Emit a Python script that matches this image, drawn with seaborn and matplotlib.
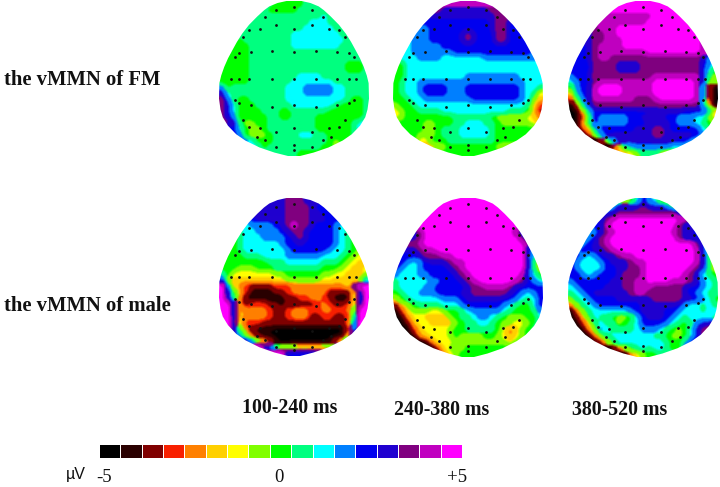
import numpy as np
import seaborn as sns
import matplotlib.pyplot as plt
from matplotlib.colors import ListedColormap, to_rgb
from matplotlib.patches import PathPatch
from matplotlib.path import Path

# colour levels of the scale, -5 uV (black) to +5 uV (magenta)
levels = ['#000000', '#2a0000', '#800000', '#f82000', '#ff8000', '#ffd000', '#ffff00', '#80ff00', '#00ff00',
          '#00ff80', '#00ffff', '#0080ff', '#0000f0', '#2000d0', '#800080', '#c000c0', '#ff00ff']
digits = '0123456789abcdefg'

fm_100 = [
    "9999999998888899999999999", "9999999988888999999999999", "99999999999999999a9999999",
    "999999999999999aaa9999999", "99999999999999aaaaa999999", "999999999999aaaaaaaa99999",
    "999899999999aaaaaaaaa9999", "998889999999aaaaaaaa99999", "9988899999999999999999999",
    "8888899999999999999999999", "8888899999999999999998889", "8888899999999999999998889",
    "8888899999999aaaa99999999", "888889999999aaaaaaa999999", "b8999999999aaabbbbbaa9999",
    "da9999a9999aaabbbbbaa9999", "eb988999999aaaaaaaaaa9889", "eca888999999aaaaaaa988889",
    "eca8888999889999998888889", "ecb8888899889999888888889", "eec97788999999998888889aa",
    "ccca877899999999888888" "9aa", "cccb877789999aaa998888999", "ccccba8889999999998789999",
    "aaaaaaa899999999988777899", "9999999999999888887779999",
]
fm_240 = [
    "fffffffffffffffffffffffff", "eeeeeeeeddddddddeeeeeffff", "dddddddddddddddddeeeeefff",
    "ccccccccccccccccdeecccccc", "bbbbbbccccccccccdeecccccc", "bbbbbbcccccdedccceecccccc",
    "aaabbbcccccdedccceecccccc", "aaabbbbbccccccccccccccccc", "aaabbbbbbbcccccccccccccbb",
    "aaaabbbbaaaaaaabbbbbbbbbb", "88aaaaaaaaaaaaaaaaaaaaaaa", "88aaaaaaaaaaaaaaaaaaaaaaa",
    "88aaaaaaaaaabbbbbbbbbaaaa", "89aabbbbbbbbbbbbbbbbbbaaa", "89aabccccbbbcccccccccbaa9",
    "89aabccccbbbcccccccccba96", "889aabbbbbbbbccccccccba75", "7889aaaaaaaaaaaaaaaaaa963",
    "67889999aaaaaaaaaaa999852", "6788888888999999877777654", "888887788899aaa9987777765",
    "88888778999aaaaa988888888", "88887778999aaaaa988888888", "8888668889999999988888888",
    "5555544578888888876666666", "8888888888888888888888888",
]
fm_380 = [
    "ggggggggggggggggggggggggg", "ggggggggggggggggggggggggg", "ffffffffffffffggggggggggg",
    "fffffffffffffgggggggggggg", "ddddefffgggggggggggggggff", "ddddeeffggggggggggggggfee",
    "ddddeefffgggggggggggggfee", "cccdeffffgggggggggggggfff", "cccdeffffffffgggggggggffe",
    "cccdeffeeeeeeeeeeeeeeedba", "cccceeeeddddeeeeeeeeeecba", "cccceeeeddddeeeeeeeeeeca8",
    "bccdeeeeeeeeeeffffffffc97", "abccefffffffffgggggggfc86", "8bcdfggggfffffgggggggfa30",
    "6acdfggggfffffgggggggfa30", "38bdfffffffeeefggggggfa30", "049ceeeeeeeeeeeeeeeeeea50",
    "016acccccccccccddddcccca62", "0038cbbbbbccddddccbbbaa75", "0159cbbbbbcccddddcbbba987",
    "1136accccccdddeedccccca98", "00037acdddddddeedddddcba9", "0000037acdddddddddccba999",
    "0000000269abbbbbbaaa99999", "4444444445679997666666666",
]
male_100 = [
    "dddddddddddeeeddddddddddd", "dddddddddddeeeedcccccccccc", "dddddddddddeeeeddcccccccc",
    "bbbbbcdddddeeeedddcccbbbb", "aaaaabbbbcdegeedcccba9999", "9999aabbbbcdeedccccba9999",
    "8889aaabbbbcdedccccba9888", "8889aaaaaabccdcccccba9888", "8889aaaaaaabccccccbaa9877",
    "8888999aaaabbbbbbaaa98766", "88888888999aaaaaa99987655", "8887778889999999988876556",
    "a866666667788888877665557", "c75555555667777776655557a", "gb6432222333444444444" "6cgg",
    "gc85311112234444442222" "6cg", "gd9411110012233443" "2101" "6cg", "ggc42333221212223432236cg",
    "ggc5444432234443344334" "8gg", "ggc5444432234442233223" "9gg", "ggd633322222222222222" "4agg",
    "ggc841111000000000000" "3bgg", "ggda7421000000000000" "15cgg", "ggggca75310000000013" "6aggg",
    "gggggggcb977666666" "7acgggg", "ggggggggggg" "ccccccd" "ggggggg",
]
male_240 = [
    "ggggggggggggggggggggggggg", "ggggggggggggggggggggggggg", "ggggggggggggggggggggggggg",
    "ggggggggggggggggggggggggg", "ggggggggggggggggggggggggg", "ddddegggggggggggggggecccc",
    "ddddeggggggggggggggggeccc", "eeeefgggggggggggggggggecc", "ddddeffgggggggggggggggcba",
    "ccccdeeeffggggggggggggda9", "dcbabcdddeffggggggggggd96", "dbaabccccdefggggggggggd96",
    "baaabbccccdefggggggggfca8", "9aaaaabbcccdefggggggfecba", "9aaaabbcccccdeeffffedcccc",
    "89aabbbccccddeeeeeedcbabc", "689aaaaabbbcddddddccba9ac", "25789999aaabccccccba988ac",
    "036777667889abbbbba98889b", "0146655557899abba9877788a", "00256655557899aa98776678a",
    "000356666788999998645789a", "000145666787777887646789a", "0000014666777777777678999",
    "0000000367778888888888888", "0000000046788888888888888",
]
male_380 = [
    "88888888858acba8888888888", "aaaaaaabcccdedccba9999999", "bbbbbbcdeeeeeeeeeedcbbbbb",
    "bbbbbcefgggggggggggfecbbb", "aaabcdfgggggggggggeddcba9", "aaaabcefgggggggggfeddca99",
    "aaabcefgggggggggggeddcba9", "abbcdefggggggggggggggeca9", "bbccddefgggggggggggggfca8",
    "ccbabcddeffggggggggggfd96", "cbaaabcdddeffggggggggfd95", "cbaaaaccddeefgggggggfec96",
    "ccbabcccdeeefggggggfeca98", "bccccccddeeffggggfffedba9", "abccccdddeefffeeeeedccba9",
    "9abcddddddeffeeeeeedcba99", "79abccccddddddeeeeeddcba8", "479abcccccccddddddcbaa9a9",
    "0479aaaaaabcddddccbaaa9aa", "0258a998778acdddcba9aaaa9", "00369a99789accccba989bcde",
    "00147ba9999abbba9878acefe", "0001479aaaaaaa998778acfee", "00001368aaaaaaaa988acdddd",
    "000000024689a9aa988cccccc", "0000000000467889999999999",
]

map_rows = [fm_100, fm_240, fm_380, male_100, male_240, male_380]
# left, top, width, height of each head in image pixels
head_boxes = [(219, 1, 150, 155), (393, 1, 150, 155), (568, 1, 150, 155),
              (219, 198, 150, 158), (393, 198, 150, 159), (568, 198, 150, 159)]

# head outline, v runs down the head, w is half width
head_v = [0, .013, .035, .06, .10, .154, .21, .263, .316, .37, .425, .48, .53, .63, .70, .75, .805, .86, .90, .945, .978, 1]
head_w = [.10, .22, .33, .40, .49, .60, .69, .76, .82, .88, .93, .97, .995, 1, .98, .95, .88, .77, .65, .46, .26, .08]

# electrodes, u across (-1..1), v down (0..1)
dot_u = [-.244, 0, .244, -.382, .387, -.244, .244, -.6, -.458, 0, .467, .6, -.68, .68, -.733, -.569, -.298, 0, .298,
         .573, .733, -.791, .796, -.844, -.733, -.6, -.298, 0, .298, .573, .733, .831, -.791, -.733, -.569, -.298, 0,
         .298, .573, .733, .796, -.68, .684, -.6, -.458, -.244, 0, .244, .467, .6, -.489, -.382, .387, .493, -.244, 0,
         .244, 0]
dot_v = [.06, .039, .06, .104, .104, .154, .154, .187, .178, .178, .178, .187, .23, .23, .338, .328, .321, .328, .321,
         .328, .338, .36, .36, .501, .501, .501, .501, .501, .501, .501, .501, .501, .638, .66, .672, .681, .672, .681,
         .672, .66, .638, .768, .768, .812, .822, .844, .82, .844, .82, .812, .876, .898, .898, .876, .94, .928, .94,
         .961]

row_labels = ['the vMMN of FM', 'the vMMN of male']
row_label_y = [80, 306]
time_labels = ['100-240 ms', '240-380 ms', '380-520 ms']
time_label_x = [290, 442, 620]
time_label_y = [408, 410, 410]
scale_labels = ['-5', '0', '+5']
scale_label_x = [104, 279, 457]

W, H = 720, 487
palette = np.array([to_rgb(c) for c in levels])


def axes_at(fig, left, top, width, height):
    return fig.add_axes([left / W, 1 - (top + height) / H, width / W, height / H])


def box_blur(rgb, radius):
    size = 2 * radius + 1
    for axis in (0, 1):
        pad = [(0, 0)] * 3
        pad[axis] = (radius + 1, radius)
        total = np.cumsum(np.pad(rgb, pad, mode='edge'), axis=axis)
        rgb = (np.take(total, np.arange(size, total.shape[axis]), axis=axis)
               - np.take(total, np.arange(0, total.shape[axis] - size), axis=axis)) / size
    return rgb


def soften(image, dpi):
    # rounds off the cell steps at render time, the source scan is a blurry contour map
    rgb = box_blur(box_blur(image[..., :3].astype(float), 3), 3)
    nearest = ((rgb[..., None, :] - palette) ** 2).sum(axis=-1).argmin(axis=-1)
    rgb = box_blur(palette[nearest], 1)
    return np.dstack([rgb, np.ones(rgb.shape[:2])]), 0, 0


def plot_head(fig, rows, box):
    grid = np.array([[digits.index(c) for c in row.ljust(25, row[-1])[:25]] for row in rows])
    ax = axes_at(fig, *box)
    sns.heatmap(grid, ax=ax, cmap=cmap, vmin=0, vmax=16, cbar=False, xticklabels=False, yticklabels=False)
    ax.collections[0].set_agg_filter(soften)
    n_rows, n_cols = grid.shape
    v = np.array(head_v) * n_rows
    w = np.array(head_w) * n_cols / 2
    outline = np.r_[np.c_[n_cols / 2 - w, v], np.c_[n_cols / 2 + w, v][::-1]]
    frame = [(-2, -2), (n_cols + 2, -2), (n_cols + 2, n_rows + 2), (-2, n_rows + 2), (-2, -2)]
    mask = Path.make_compound_path(Path(frame, closed=True), Path(np.r_[outline, outline[:1]], closed=True))
    ax.add_patch(PathPatch(mask, facecolor='white', edgecolor='none', zorder=3, clip_on=False))
    sns.scatterplot(x=(np.array(dot_u) + 1) * n_cols / 2, y=np.array(dot_v) * n_rows, ax=ax, color='#111111', s=4,
                    linewidth=0, legend=False, zorder=4)
    ax.set_xlim(0, n_cols)
    ax.set_ylim(n_rows, 0)
    ax.axis('off')


sns.set_theme(style="white")
plt.rcParams['font.family'] = ['Liberation Serif', 'DejaVu Sans']
cmap = ListedColormap(levels)

fig = plt.figure(figsize=(W / 100, H / 100), dpi=100)
for rows, box in zip(map_rows, head_boxes):
    plot_head(fig, rows, box)

# scale bar
ax = axes_at(fig, 99, 444, 363, 14)
sns.heatmap(np.arange(len(levels)).reshape(1, -1), ax=ax, cmap=cmap, cbar=False, xticklabels=False, yticklabels=False,
            linewidths=0.6, linecolor='white')
ax.axis('off')

for label, y in zip(row_labels, row_label_y):
    fig.text(4 / W, 1 - y / H, label, fontsize=14.9, fontweight='bold', va='center', color='#111111')
for label, x, y in zip(time_labels, time_label_x, time_label_y):
    fig.text(x / W, 1 - y / H, label, fontsize=14.3, fontweight='bold', ha='center', va='center', color='#111111')
for label, x in zip(scale_labels, scale_label_x):
    fig.text(x / W, 1 - 478 / H, label, fontsize=13.5, ha='center', va='center', color='#111111')
fig.text(76 / W, 1 - 475 / H, 'µV', fontsize=11.5, ha='center', va='center', family='Liberation Sans', color='#111111')

plt.savefig('out.png', dpi=100)
